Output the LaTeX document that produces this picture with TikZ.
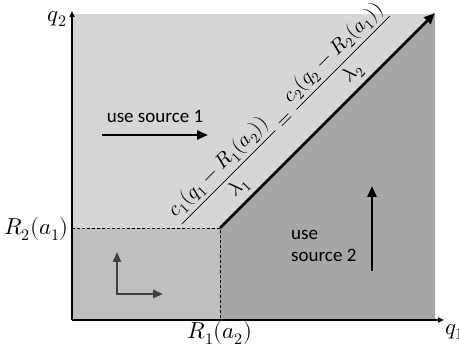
\documentclass[tikz,border=0pt]{standalone}
\usepackage{fontspec}
\usepackage{unicode-math}
\setmathfont{Latin Modern Math}
\setsansfont{Carlito}
\usetikzlibrary{arrows.meta}
\definecolor{lightreg}{HTML}{D6D6D6}
\definecolor{midreg}{HTML}{BFBFBF}
\definecolor{darkreg}{HTML}{A6A6A6}
\definecolor{smallarr}{HTML}{404040}
\begin{document}
\begin{tikzpicture}[x=1pt,y=-1pt,
  axis/.style={line width=1.6pt,-{Triangle[length=6pt,width=5pt]}},
  bigarrow/.style={line width=2.6pt,-{Triangle[length=11pt,width=9pt]}},
  smallarrow/.style={line width=2.6pt,smallarr,-{Triangle[length=10pt,width=8pt]}},
  guide/.style={dashed,line width=0.7pt,dash pattern=on 3pt off 2pt},
  lbl/.style={font=\sffamily\fontsize{19}{22}\selectfont,align=left,inner sep=0pt},
  mlbl/.style={font=\fontsize{23}{26}\selectfont,inner sep=0pt},
  eqlbl/.style={font=\fontsize{20.5}{24}\selectfont,inner sep=0pt}]
\useasboundingbox (0,0) rectangle (459,352);
% regions
\fill[lightreg] (72,14) rectangle (435,320);
\fill[midreg] (72,228) rectangle (220,320);
\fill[darkreg] (220,228) -- (435,14) -- (435,320) -- (220,320) -- cycle;
% coordinates
\coordinate (O) at (72,320);
\coordinate (ytip) at (72,11);
\coordinate (xtip) at (444,320);
\coordinate (K) at (220,228);
\coordinate (Ky) at (72,228);
\coordinate (Kx) at (220,320);
\coordinate (D) at (435,13);
% guides
\draw[guide] (Ky) -- (K) -- (Kx);
% axes
\draw[axis] (O) -- (ytip);
\draw[axis] (O) -- (xtip);
% diagonal
\draw[bigarrow] (K) -- (D);
% labels
\node[mlbl,anchor=east] (q2) at (67,19) {$q_2$};
\node[mlbl,anchor=west] (q1) at (445,332) {$q_1$};
\node[mlbl,anchor=east] (R2) at (69,229) {$R_2(a_1)$};
\node[mlbl,anchor=north] (R1) at (220,321) {$R_1(a_2)$};
% equation
\node[eqlbl,rotate=45] (eq) at (286,120)
  {$\displaystyle \frac{c_1(q_1-R_1(a_2))}{\lambda_1}=\frac{c_2(q_2-R_2(a_1))}{\lambda_2}$};
% source 1
\node[lbl,anchor=center] (s1) at (155,116) {use source 1};
\coordinate (s1a) at (102,135);
\coordinate (s1b) at (208,135);
\draw[bigarrow] (s1a) -- (s1b);
% source 2
\node[lbl,anchor=west] (s2) at (291,246) {use\\source 2};
\coordinate (s2a) at (372,271);
\coordinate (s2b) at (372,186);
\draw[bigarrow] (s2a) -- (s2b);
% small L arrows
\coordinate (L0) at (117,294);
\coordinate (Lu) at (117,252);
\coordinate (Lr) at (163,294);
\draw[smallarrow] ([yshift=-1.3pt]L0) -- (Lu);
\draw[smallarrow] ([xshift=-1.3pt]L0) -- (Lr);
\end{tikzpicture}
\end{document}
